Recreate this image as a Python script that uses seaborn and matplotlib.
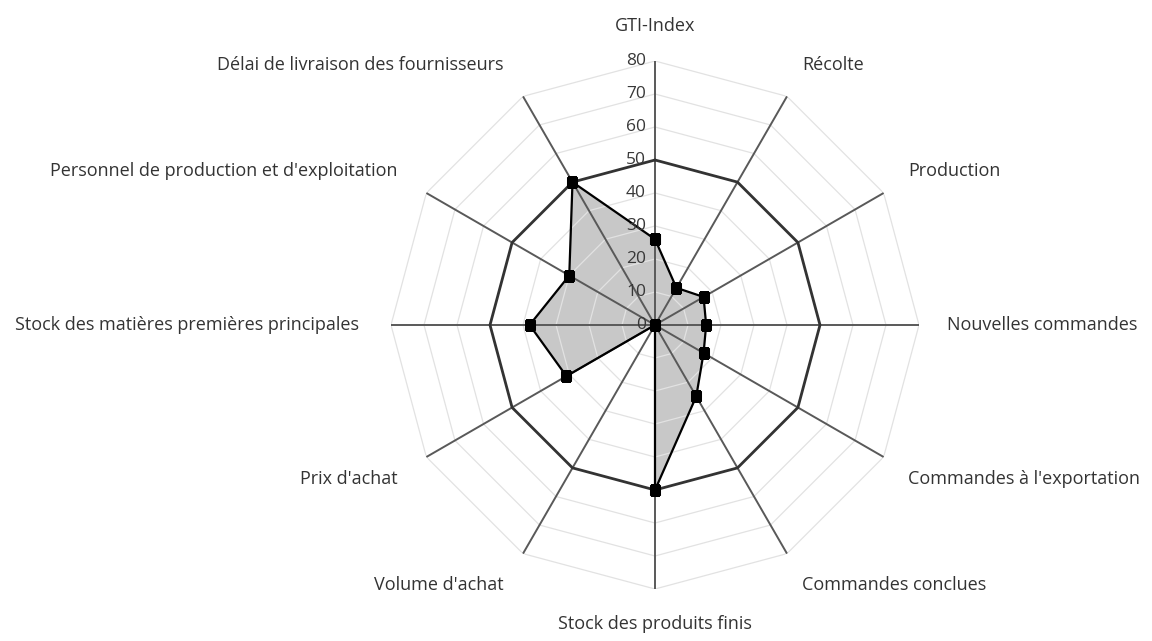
import numpy as np
import matplotlib
matplotlib.use("Agg")
import matplotlib.pyplot as plt
import matplotlib.transforms as mtransforms
import seaborn as sns

categories = [
    "GTI-Index",
    "Récolte",
    "Production",
    "Nouvelles commandes",
    "Commandes à l'exportation",
    "Commandes conclues",
    "Stock des produits finis",
    "Volume d'achat",
    "Prix d'achat",
    "Stock des matières premières principales",
    "Personnel de production et d'exploitation",
    "Délai de livraison des fournisseurs",
]
values = [26, 13, 17, 15.5, 17, 25, 50, 0, 31, 38, 30, 50]
reference = [50, 50, 50, 50, 50, 50, 50, 50, 50, 50, 50, 50]
tick_values = [0, 10, 20, 30, 40, 50, 60, 70, 80]

sns.set_theme(style="white")
plt.rcParams["font.family"] = ["Open Sans", "DejaVu Sans"]

W, H = 1152, 641
fig = plt.figure(figsize=(W / 100, H / 100), dpi=100)
cx, cy, R = 655, 325, 264
ax = fig.add_axes([(cx - R) / W, (H - cy - R) / H, 2 * R / W, 2 * R / H], projection="polar")
ax.set_theta_zero_location("N")
ax.set_theta_direction(-1)
ax.set_ylim(0, tick_values[-1])
ax.grid(False)
ax.set_xticks([])
ax.set_yticks([])
ax.spines["polar"].set_visible(False)
ax.patch.set_alpha(0)

n = len(categories)
theta = np.linspace(0, 2 * np.pi, n, endpoint=False)
theta_c = np.append(theta, theta[0])
vals_c = np.append(values, values[0])
ref_c = np.append(reference, reference[0])

# data fill
ax.fill(theta_c, vals_c, color="#c8c8c8", zorder=1, lw=0)

# grid polygons
for t in tick_values[1:]:
    ax.plot(theta_c, [t] * (n + 1), color="#e2e2e2", lw=0.9, zorder=2)

# spokes
for th in theta:
    ax.plot([th, th], [0, tick_values[-1]], color="#595959", lw=1.4, zorder=3)

# reference polygon at 50
sns.lineplot(x=theta_c, y=ref_c, sort=False, estimator=None, color="#333333",
             lw=2.0, ax=ax, zorder=4)

# data series
sns.lineplot(x=theta_c, y=vals_c, sort=False, estimator=None, color="black",
             lw=1.6, marker="s", markersize=6.5, markeredgecolor="black",
             ax=ax, zorder=5)

# tick labels along top spoke
off = mtransforms.offset_copy(ax.transData, fig=fig, x=-9, y=0, units="dots")
for t in tick_values:
    ax.text(0, t, str(t), transform=off, ha="right", va="center",
            fontsize=12.5, color="#383838", zorder=6)

# category labels
for th, lab in zip(theta, categories):
    s, c = np.sin(th), np.cos(th)
    ha = "left" if s > 0.01 else ("right" if s < -0.01 else "center")
    va = "bottom" if c > 0.01 else ("top" if c < -0.01 else "center")
    dx = -6 if ha == "right" else (2 if ha == "left" else 0)
    tr = mtransforms.offset_copy(ax.transData, fig=fig, x=dx, y=0, units="dots")
    ax.text(th, 88, lab, transform=tr, ha=ha, va=va, fontsize=13, color="#333333",
            clip_on=False)

fig.savefig("out.png", dpi=100)
